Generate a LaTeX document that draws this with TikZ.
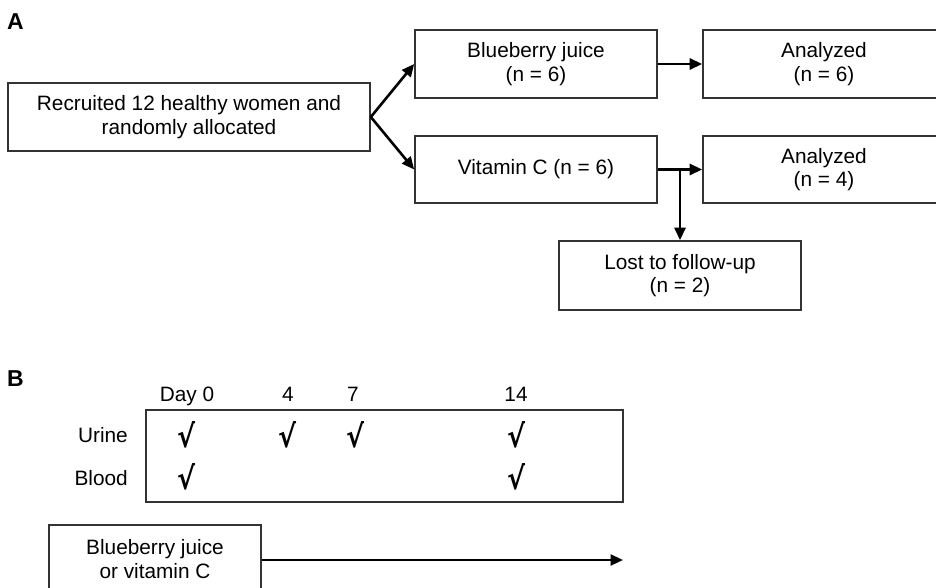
\documentclass[tikz,border=0pt]{standalone}
\usepackage{fontspec}
\usepackage{graphicx}
\setmainfont{Liberation Sans}
\newfontfamily\chkfont{DejaVu Sans}
\usetikzlibrary{arrows.meta}
\begin{document}
\begin{tikzpicture}[x=1pt,y=-1pt,
  box/.style={draw=black!80, line width=1.6pt, rectangle, inner sep=0pt, align=center,
    font=\fontsize{20.8}{23.5}\selectfont},
  conn/.style={line width=2.6pt, -{Triangle[length=12.5pt,width=11pt]}},
  txt/.style={inner sep=0pt, anchor=base, font=\fontsize{20.8}{23.5}\selectfont},
  chk/.style={inner sep=0pt},
  lab/.style={inner sep=0pt, anchor=base west, font=\fontsize{23}{23}\selectfont\bfseries}]
\useasboundingbox (0,0) rectangle (936,588);
\clip (0,0) rectangle (936,588);
\fill[white] (0,0) rectangle (936,588);

% Panel A
\node[lab] (la) at (7,30) {A};
\node[box, minimum width=362pt, minimum height=68pt] (rec) at (189,117) {Recruited 12 healthy women and\\randomly allocated};
\node[box, minimum width=242pt, minimum height=68pt] (bj) at (536,64) {Blueberry juice\\(n = 6)};
\node[box, minimum width=242pt, minimum height=67pt] (vc) at (536,169.5) {Vitamin C (n = 6)};
\node[box, minimum width=242pt, minimum height=68pt] (an1) at (824,64) {Analyzed\\(n = 6)};
\node[box, minimum width=242pt, minimum height=67pt] (an2) at (824,169.5) {Analyzed\\(n = 4)};
\node[box, minimum width=242pt, minimum height=69pt] (lost) at (680,275.5) {Lost to follow-up\\(n = 2)};

\draw[conn] (rec.east) -- (bj.west);
\draw[conn] (rec.east) -- (vc.west);
\draw[conn] (bj.east) -- (an1.west);
\draw[conn] (vc.east) -- (an2.west);
\coordinate (br) at (lost.north |- vc.east);
\draw[conn] (br) -- (lost.north);

% Panel B
\node[lab] (lb) at (7,386) {B};
\node[txt] (d0) at (187,401) {Day 0};
\node[txt] (d4) at (288,401) {4};
\node[txt] (d7) at (353,401) {7};
\node[txt] (d14) at (516,401) {14};
\node[draw=black!80, line width=1.6pt, rectangle, inner sep=0pt, minimum width=477pt, minimum height=92pt] (tab) at (384.5,456) {};
\node[txt, anchor=base east] (ur) at (128,442) {Urine};
\node[txt, anchor=base east] (bl) at (128,485) {Blood};
\newcommand{\ck}{\resizebox{18pt}{26pt}{\chkfont\bfseries √}}
\node[chk] (c1) at (186,435) {\ck};
\node[chk] (c2) at (287,435) {\ck};
\node[chk] (c3) at (355,435) {\ck};
\node[chk] (c4) at (516,435) {\ck};
\node[chk] (c5) at (186,477) {\ck};
\node[chk] (c6) at (516,477) {\ck};

\node[box, minimum width=212pt, minimum height=68pt] (trt) at (155,559) {Blueberry juice\\or vitamin C};
\coordinate (tend) at (623,560);
\draw[conn] (trt.east |- tend) -- (tend);
\end{tikzpicture}
\end{document}
